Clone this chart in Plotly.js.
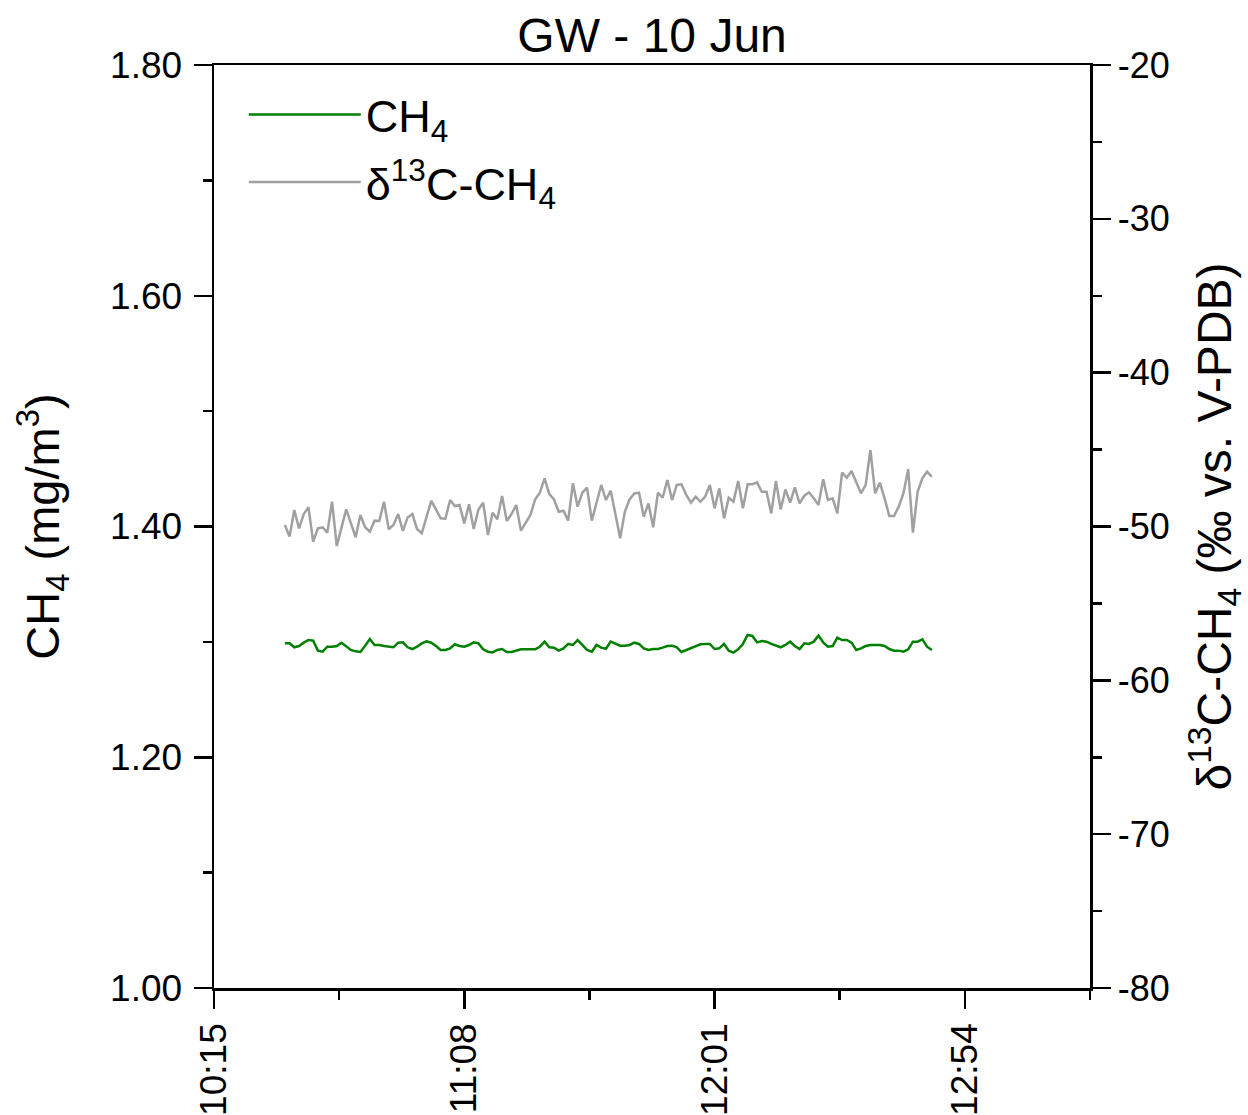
<!DOCTYPE html>
<html>
<head>
<meta charset="utf-8">
<script src="https://cdn.plot.ly/plotly-3.0.1.min.js"></script>
<style>html,body{margin:0;padding:0;background:#fff;}#chart{width:1248px;height:1115px;}</style>
</head>
<body>
<div id="chart"></div>
<script>
// Sampling day (date part only used to place clock times on a time axis)
const day = '2000-06-10';

// Clock times of the measurements
const times = [
 '10:30','10:31','10:32','10:33','10:34','10:35','10:36','10:37','10:38','10:39',
 '10:40','10:41','10:42','10:43','10:44','10:45','10:46','10:47','10:48','10:49',
 '10:50','10:51','10:52','10:53','10:54','10:55','10:56','10:57','10:58','10:59',
 '11:00','11:01','11:02','11:03','11:04','11:05','11:06','11:07','11:08','11:09',
 '11:10','11:11','11:12','11:13','11:14','11:15','11:16','11:17','11:18','11:19',
 '11:20','11:21','11:22','11:23','11:24','11:25','11:26','11:27','11:28','11:29',
 '11:30','11:31','11:32','11:33','11:34','11:35','11:36','11:37','11:38','11:39',
 '11:40','11:41','11:42','11:43','11:44','11:45','11:46','11:47','11:48','11:49',
 '11:50','11:51','11:52','11:53','11:54','11:55','11:56','11:57','11:58','11:59',
 '12:00','12:01','12:02','12:03','12:04','12:05','12:06','12:07','12:08','12:09',
 '12:10','12:11','12:12','12:13','12:14','12:15','12:16','12:17','12:18','12:19',
 '12:20','12:21','12:22','12:23','12:24','12:25','12:26','12:27','12:28','12:29',
 '12:30','12:31','12:32','12:33','12:34','12:35','12:36','12:37','12:38','12:39',
 '12:40','12:41','12:42','12:43','12:44','12:45','12:46','12:47'
];

// CH4 concentration (mg/m3)
const ch4 = [
 1.2987,1.2987,1.2953,1.2964,1.2993,1.3016,1.3011,1.2924,1.2915,1.2958,
 1.2958,1.2964,1.2993,1.2964,1.2930,1.2918,1.2912,1.2967,1.3025,1.2973,
 1.2973,1.2964,1.2958,1.2953,1.2993,1.2996,1.2953,1.2938,1.2958,1.2987,
 1.3005,1.2993,1.2964,1.2930,1.2930,1.2944,1.2979,1.2964,1.2958,1.2973,
 1.2996,1.2987,1.2935,1.2915,1.2909,1.2930,1.2938,1.2912,1.2912,1.2921,
 1.2935,1.2935,1.2938,1.2935,1.2958,1.3002,1.2953,1.2950,1.2924,1.2944,
 1.2982,1.2973,1.3016,1.2973,1.2930,1.2915,1.2973,1.2950,1.2940,1.3002,
 1.2987,1.2967,1.2967,1.2973,1.2993,1.2982,1.2944,1.2930,1.2938,1.2938,
 1.2950,1.2964,1.2967,1.2953,1.2912,1.2930,1.2950,1.2964,1.2979,1.2982,
 1.2982,1.2938,1.2944,1.2982,1.2924,1.2907,1.2935,1.2982,1.3060,1.3051,
 1.2996,1.3008,1.3002,1.2982,1.2964,1.2953,1.2973,1.3002,1.2964,1.2938,
 1.2987,1.2982,1.3002,1.3054,1.2996,1.2958,1.2964,1.3036,1.3016,1.3016,
 1.2993,1.2930,1.2944,1.2964,1.2973,1.2973,1.2973,1.2964,1.2938,1.2924,
 1.2924,1.2915,1.2935,1.3002,1.3002,1.3022,1.2958,1.2930
];

// delta13C-CH4 (permil vs. V-PDB)
const d13c = [
 -49.90,-50.66,-48.93,-50.12,-49.19,-48.75,-50.99,-50.12,-50.05,-50.40,
 -48.39,-51.27,-50.07,-48.89,-49.80,-50.70,-49.25,-50.05,-50.34,-49.62,
 -49.64,-48.39,-50.18,-49.90,-49.19,-50.29,-49.41,-49.19,-50.16,-50.44,
 -49.38,-48.34,-48.89,-49.47,-49.49,-48.28,-48.67,-48.60,-49.80,-48.56,
 -50.16,-48.89,-48.45,-50.55,-49.10,-49.53,-48.02,-49.64,-49.19,-48.60,
 -50.27,-49.75,-49.25,-48.24,-47.80,-46.87,-47.89,-48.24,-49.04,-48.97,
 -49.62,-47.19,-48.71,-47.80,-47.48,-49.62,-48.45,-47.30,-48.28,-47.67,
 -49.19,-50.77,-49.04,-48.24,-47.85,-47.80,-49.36,-48.50,-50.05,-47.80,
 -48.13,-46.98,-48.28,-47.30,-47.26,-47.95,-48.45,-48.06,-48.39,-48.06,
 -47.30,-48.82,-47.52,-49.47,-48.13,-48.39,-47.04,-48.82,-47.26,-47.26,
 -47.13,-47.74,-47.74,-49.15,-47.04,-48.89,-47.59,-48.45,-47.45,-48.50,
 -48.00,-47.78,-48.17,-48.60,-46.93,-48.28,-48.17,-49.15,-46.50,-46.83,
 -46.39,-47.15,-47.84,-47.30,-45.03,-47.84,-47.15,-48.17,-49.32,-49.32,
 -48.71,-47.84,-46.28,-50.40,-47.74,-46.87,-46.44,-46.76
];

// Right-axis tick values and labels (plain hyphen minus, as in the original)
const d13cTickVals = [-80, -70, -60, -50, -40, -30, -20];
const d13cTickText = ['-80', '-70', '-60', '-50', '-40', '-30', '-20'];

const xStart = '10:15';
const xEnd = '13:20:30';
const tickStepMin = 53;

const xs = times.map(t => day + ' ' + t);
const FONT = 'Liberation Sans, Arial, sans-serif';
const NB = '\u00A0';

const traces = [
  {x: xs, y: ch4, name: 'CH<sub>4</sub>', type: 'scatter', mode: 'lines', legendgroup: 'a',
   line: {color: '#008000', width: 2.5}, yaxis: 'y'},
  {x: xs, y: d13c, name: '\u03B4<sup>13</sup>C-CH<sub>4</sub>', type: 'scatter', mode: 'lines', legendgroup: 'b',
   line: {color: '#a0a0a0', width: 2.5}, yaxis: 'y2'}
];

const axCommon = {
  showgrid: false, zeroline: false, showline: true, linecolor: '#000', linewidth: 2.5,
  ticks: 'outside', ticklen: 18, tickwidth: 2.5, tickcolor: '#000',
  tickfont: {family: FONT, size: 37, color: '#000'}
};

const layout = {
  width: 1248, height: 1115,
  margin: {l: 214, r: 158, t: 65, b: 127, pad: 0},
  paper_bgcolor: '#fff', plot_bgcolor: '#fff',
  font: {family: FONT, color: '#000'},
  title: {text: 'GW - 10 Jun', font: {family: FONT, size: 48, color: '#000'},
          x: 0.5225, xanchor: 'center', y: 0.968, yanchor: 'middle'},
  showlegend: true,
  legend: {x: 0.034, y: 0.985, xanchor: 'left', yanchor: 'top', bgcolor: 'rgba(0,0,0,0)',
           font: {family: FONT, size: 45, color: '#000'}, itemwidth: 112,
           traceorder: 'grouped', tracegroupgap: 6},
  xaxis: Object.assign({}, axCommon, {
    type: 'date', range: [day + ' ' + xStart, day + ' ' + xEnd],
    tick0: day + ' ' + xStart, dtick: tickStepMin * 60000, tickformat: '%H:%M',
    tickangle: -90, mirror: true,
    minor: {tick0: day + ' ' + xStart, dtick: tickStepMin * 30000, ticks: 'outside', ticklen: 9, tickwidth: 2.5, tickcolor: '#000'}
  }),
  yaxis: Object.assign({}, axCommon, {
    range: [1.0, 1.8], dtick: 0.2, tickformat: '.2f', ticklabelstandoff: 4,
    minor: {dtick: 0.1, ticks: 'outside', ticklen: 9, tickwidth: 2.5, tickcolor: '#000'},
    title: {text: NB + NB + NB + NB + 'CH<sub>4</sub> (mg/m<sup>3</sup>)', standoff: 36,
            font: {family: FONT, size: 47, color: '#000'}}
  }),
  yaxis2: Object.assign({}, axCommon, {
    overlaying: 'y', side: 'right', range: [-80, -20],
    tickmode: 'array', tickvals: d13cTickVals, ticktext: d13cTickText,
    tickfont: {family: FONT, size: 36, color: '#000'},
    minor: {dtick: 5, ticks: 'outside', ticklen: 9, tickwidth: 2.5, tickcolor: '#000'},
    title: {text: '\u03B4<sup>13</sup>C-CH<sub>4</sub> (\u2030 vs. V-PDB)', standoff: 30,
            font: {family: FONT, size: 48, color: '#000'}}
  })
};

Plotly.newPlot('chart', traces, layout, {displayModeBar: false, staticPlot: true});
</script>
</body>
</html>
